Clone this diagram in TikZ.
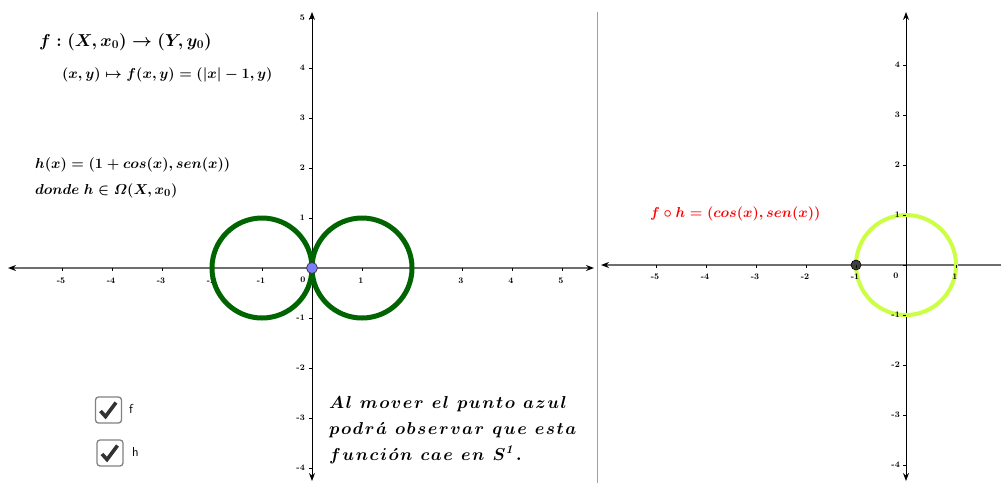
\documentclass[tikz,border=0pt]{standalone}
\usepackage{amsmath}
\usetikzlibrary{arrows.meta,calc}
\definecolor{axgrey}{RGB}{110,110,110}
\definecolor{dgreen}{RGB}{0,100,0}
\definecolor{lgreen}{RGB}{204,255,68}
\definecolor{ptblue}{RGB}{125,125,255}
\definecolor{divgrey}{RGB}{160,160,160}
\definecolor{boxgrey}{RGB}{130,130,130}
\definecolor{checkc}{RGB}{50,50,50}
\newcommand{\ls}{\mkern1.4mu}
\newcommand{\ws}{\ \mkern2.5mu}
\begin{document}
\begin{tikzpicture}[x=1pt,y=-1pt,
  tip/.tip={Stealth[length=8pt,width=6pt,color=black]},
  haxis/.style={draw=axgrey, line width=1.3pt},
  vaxis/.style={draw=black, line width=1pt},
  tickmark/.style={draw=black, line width=0.8pt},
  ticklab/.style={font=\fontsize{8.5}{9}\selectfont\bfseries, inner sep=0pt},
  mathtxt/.style={font=\boldmath\fontsize{15.2}{17}\selectfont, inner sep=0pt, anchor=west},
  bigtxt/.style={font=\boldmath\fontsize{17.5}{19}\selectfont, inner sep=0pt, anchor=base west, text height=12pt, text depth=3pt},
  cbox/.style={draw=boxgrey, fill=white, rounded corners=3pt, line width=1.3pt, minimum size=26pt, inner sep=0pt},
  checkmark/.style={draw=checkc, line width=3.6pt},
  cblab/.style={font=\sffamily\fontsize{13}{15}\selectfont, inner sep=0pt, anchor=west},
]
\useasboundingbox (0,0) rectangle (1001,483);
\fill[white] (0,0) rectangle (1001,483);

% ---------- left panel ----------
\coordinate (LxL) at (8,268);
\coordinate (LxR) at (594,268);
\coordinate (LyB) at (312,481);
\coordinate (LyT) at (312,12);
\draw[haxis, tip-tip] (LxL) -- (LxR);
\draw[vaxis, tip-tip] (LyB) -- (LyT);
\foreach \i in {-5,...,5} {
  \draw[tickmark] ({312+50*\i},268) -- ({312+50*\i},271);
}
\foreach \j in {-4,...,5} {
  \draw[tickmark] (309,{268-50*\j}) -- (312,{268-50*\j});
}
\foreach \i in {-5,-4,-3,-2,-1,1,3,4,5} {
  \node[ticklab] at ({311+50*\i},281) {\i};
}
\node[ticklab] at (303,280) {0};
\foreach \j in {-4,-3,-2,-1,1,2,3,4,5} {
  \node[ticklab, anchor=east] at (305,{268-50*\j}) {\j};
}
\draw[dgreen, line width=5pt] (262,268) circle[radius=50pt];
\draw[dgreen, line width=5pt] (362,268) circle[radius=50pt];
\node[circle, fill=ptblue, draw=black!75, line width=0.8pt, inner sep=0pt, minimum size=11pt] (P) at (312,268) {};

% texts
\node[mathtxt, font=\boldmath\fontsize{17.5}{20}\selectfont] (t1) at (39,42) {$f:(X,x_0)\rightarrow(Y,y_0)$};
\node[mathtxt, font=\boldmath\fontsize{14.5}{17}\selectfont] (t2) at (62,75) {$(x,y)\mapsto f(x,y)=(|x|-1,y)$};
\node[mathtxt] (t3) at (35,165) {$h(x)=(1+cos(x),sen(x))$};
\node[mathtxt] (t4) at (35,191) {$donde\ h\in\varOmega(X,x_0)$};

\node[bigtxt] (b1) at (329,408) {$A\ls l\ws m\ls o\ls v\ls e\ls r\ws e\ls l\ws p\ls u\ls n\ls t\ls o\ws a\ls z\ls u\ls l$};
\node[bigtxt] (b2) at (329,434) {$p\ls o\ls d\ls r\ls \acute{a}\ws o\ls b\ls s\ls e\ls r\ls v\ls a\ls r\ws q\ls u\ls e\ws e\ls s\ls t\ls a$};
\node[bigtxt] (b3) at (329,460) {$f\ls u\ls n\ls c\ls i\ls \acute{o}\ls n\ws c\ls a\ls e\ws e\ls n\ws S^{\mathit{1}}\ls.$};

% checkboxes
\node[cbox] (cbf) at (108.5,410) {};
\draw[checkmark] ($(cbf)+(-8,1)$) -- ($(cbf)+(-3,6.5)$) -- ($(cbf)+(7.5,-7.5)$);
\node[cblab] (lf) at (129,409) {f};
\node[cbox] (cbh) at (110,453) {};
\draw[checkmark] ($(cbh)+(-8,1)$) -- ($(cbh)+(-3,6.5)$) -- ($(cbh)+(7.5,-7.5)$);
\node[cblab] (lh) at (132,452) {h};

% divider
\draw[divgrey, line width=1pt] (597,12) -- (597,483);

% ---------- right panel ----------
\coordinate (RxL) at (601,265);
\coordinate (RxR) at (1001,265);
\coordinate (RyB) at (906,481);
\coordinate (RyT) at (906,12);
\draw[haxis, tip-] (RxL) -- (RxR);
\draw[vaxis, tip-tip] (RyB) -- (RyT);
\draw[lgreen, line width=4pt] (906,265) circle[radius=50pt];
\node[circle, fill=black!75, draw=black, line width=0.6pt, inner sep=0pt, minimum size=10pt] (Q) at (856,265) {};
\foreach \i in {-5,...,1} {
  \draw[tickmark] ({906+50*\i},265) -- ({906+50*\i},268);
}
\foreach \j in {-4,...,4} {
  \draw[tickmark] (903,{265-50*\j}) -- (906,{265-50*\j});
}
\foreach \i in {-5,-4,-3,-2,-1,1} {
  \node[ticklab] at ({905+50*\i},277) {\i};
}
\node[ticklab] at (896,276) {0};
\foreach \j in {-4,-3,-2,-1,1,2,3,4} {
  \node[ticklab, anchor=east] at (900,{265-50*\j}) {\j};
}
\node[mathtxt, font=\boldmath\fontsize{14.8}{17}\selectfont, text=red] (red) at (650,214) {$f\circ h=(cos(x),sen(x))$};
\end{tikzpicture}
\end{document}
